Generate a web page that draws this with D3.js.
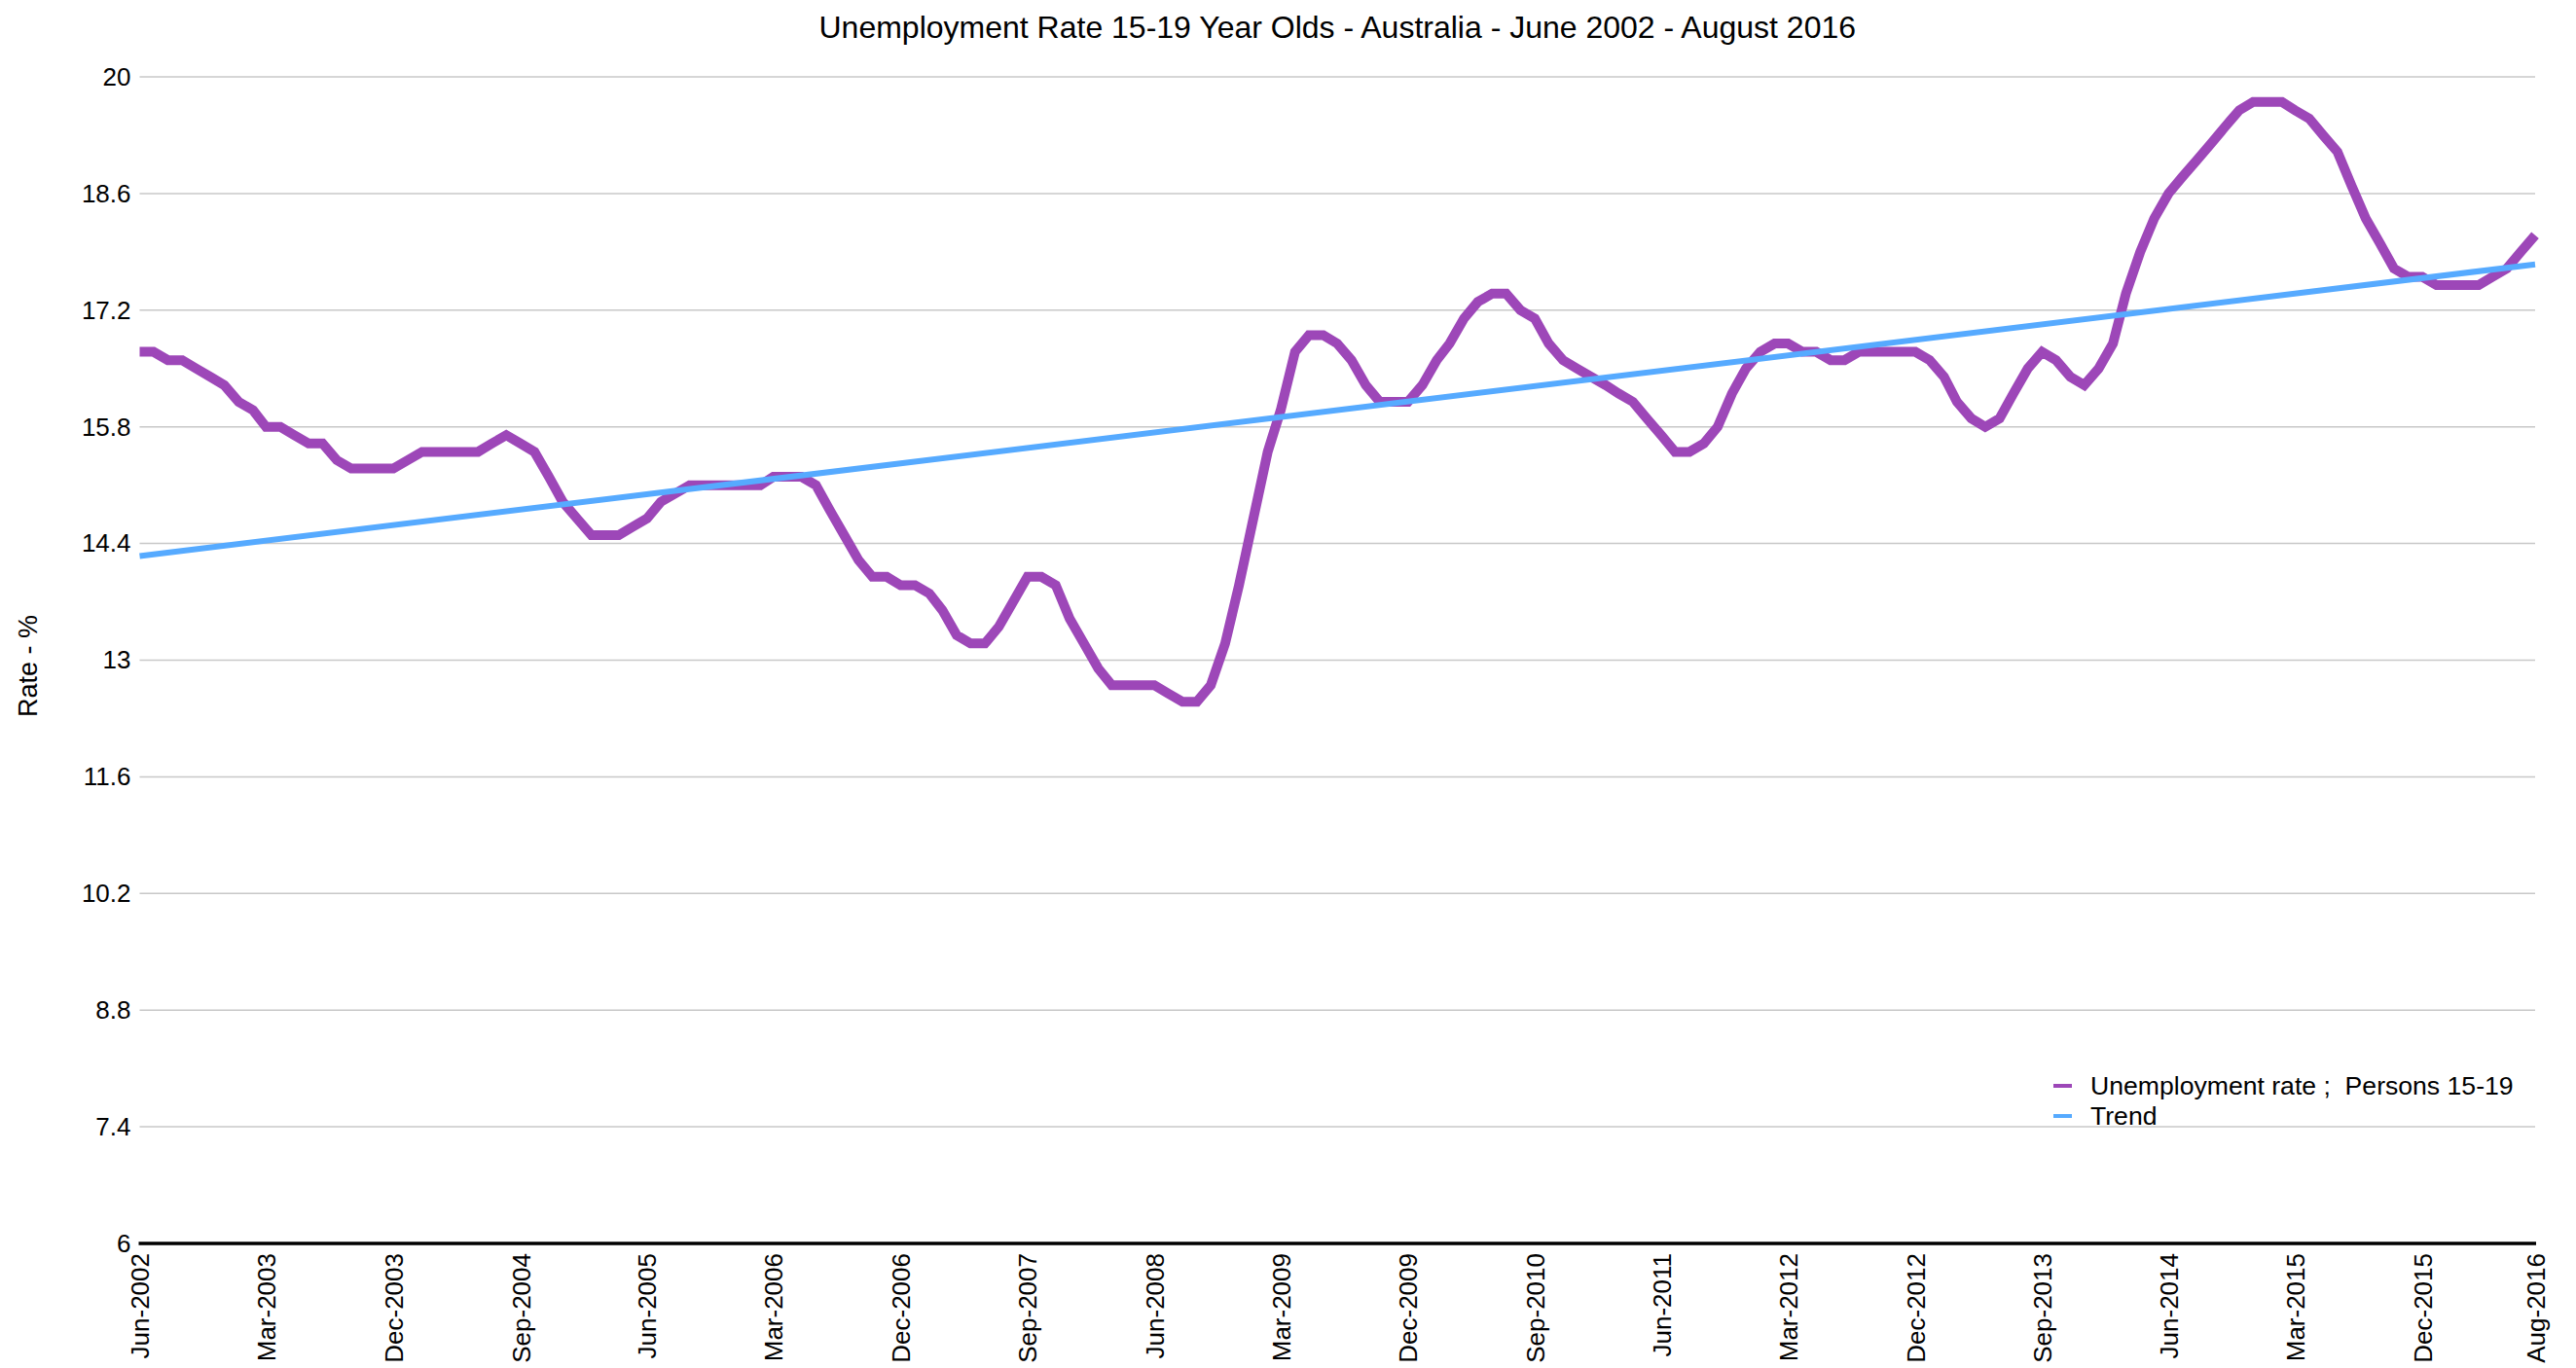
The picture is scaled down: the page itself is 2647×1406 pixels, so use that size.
<!DOCTYPE html>
<html>
<head>
<meta charset="utf-8">
<script src="https://cdn.jsdelivr.net/npm/d3@7"></script>
<style>
  body { margin: 0; background: #fff; }
  text { font-family: "Liberation Sans", Arial, Helvetica, sans-serif; fill: #000; }
</style>
</head>
<body>
<svg id="chart"></svg>
<script>
const width = 2647;
const height = 1406;

// Monthly series, Jun-2002 .. Aug-2016 (trend estimates, %)
const startMonth = "Jun-2002";
const rateValues = [
  16.7, 16.7, 16.6, 16.6, 16.5, 16.4, 16.3, 16.1, 16.0, 15.8,
  15.8, 15.7, 15.6, 15.6, 15.4, 15.3, 15.3, 15.3, 15.3, 15.4,
  15.5, 15.5, 15.5, 15.5, 15.5, 15.6, 15.7, 15.6, 15.5, 15.2,
  14.9, 14.7, 14.5, 14.5, 14.5, 14.6, 14.7, 14.9, 15.0, 15.1,
  15.1, 15.1, 15.1, 15.1, 15.1, 15.2, 15.2, 15.2, 15.1, 14.8,
  14.5, 14.2, 14.0, 14.0, 13.9, 13.9, 13.8, 13.6, 13.3, 13.2,
  13.2, 13.4, 13.7, 14.0, 14.0, 13.9, 13.5, 13.2, 12.9, 12.7,
  12.7, 12.7, 12.7, 12.6, 12.5, 12.5, 12.7, 13.2, 13.9, 14.7,
  15.5, 16.0, 16.7, 16.9, 16.9, 16.8, 16.6, 16.3, 16.1, 16.1,
  16.1, 16.3, 16.6, 16.8, 17.1, 17.3, 17.4, 17.4, 17.2, 17.1,
  16.8, 16.6, 16.5, 16.4, 16.3, 16.2, 16.1, 15.9, 15.7, 15.5,
  15.5, 15.6, 15.8, 16.2, 16.5, 16.7, 16.8, 16.8, 16.7, 16.7,
  16.6, 16.6, 16.7, 16.7, 16.7, 16.7, 16.7, 16.6, 16.4, 16.1,
  15.9, 15.8, 15.9, 16.2, 16.5, 16.7, 16.6, 16.4, 16.3, 16.5,
  16.8, 17.4, 17.9, 18.3, 18.6, 18.8, 19.0, 19.2, 19.4, 19.6,
  19.7, 19.7, 19.7, 19.6, 19.5, 19.3, 19.1, 18.7, 18.3, 18.0,
  17.7, 17.6, 17.6, 17.5, 17.5, 17.5, 17.5, 17.6, 17.7, 17.9,
  18.1
];

// Linear trend line end points (first and last month)
const trendValues = [14.25, 17.75];

const xTickLabels = [
  "Jun-2002", "Mar-2003", "Dec-2003", "Sep-2004", "Jun-2005", "Mar-2006", "Dec-2006",
  "Sep-2007", "Jun-2008", "Mar-2009", "Dec-2009", "Sep-2010", "Jun-2011", "Mar-2012",
  "Dec-2012", "Sep-2013", "Jun-2014", "Mar-2015", "Dec-2015", "Aug-2016"
];
const yTickValues = [6, 7.4, 8.8, 10.2, 11.6, 13, 14.4, 15.8, 17.2, 18.6, 20];

const seriesNames = ["Unemployment rate ;  Persons 15-19", "Trend"];
const seriesColors = ["#9d47b8", "#56aaff"];

const parseMonth = d3.utcParse("%b-%Y");
const firstDate = parseMonth(startMonth);
const dates = rateValues.map((v, i) => d3.utcMonth.offset(firstDate, i));
const series = rateValues.map((v, i) => ({ date: dates[i], value: v }));
const trend = [
  { date: dates[0], value: trendValues[0] },
  { date: dates[dates.length - 1], value: trendValues[1] }
];

const margin = { left: 143.5, right: 42, top: 79, bottom: 128 };

const svg = d3.select("#chart")
    .attr("width", width)
    .attr("height", height);

const x = d3.scaleUtc()
    .domain([dates[0], dates[dates.length - 1]])
    .range([margin.left, width - margin.right]);

const y = d3.scaleLinear()
    .domain([6, 20])
    .range([height - margin.bottom, margin.top]);

// Horizontal gridlines
svg.append("g")
    .selectAll("line")
    .data(yTickValues.filter(d => d !== 6))
    .enter().append("line")
    .attr("x1", x.range()[0])
    .attr("x2", x.range()[1])
    .attr("y1", d => y(d))
    .attr("y2", d => y(d))
    .attr("stroke", "#c8c8c8")
    .attr("stroke-width", 1.5);

// Y axis labels
const yAxis = d3.axisLeft(y)
    .tickValues(yTickValues)
    .tickSize(0)
    .tickPadding(9)
    .tickFormat(d => String(+d.toFixed(1)));

svg.append("g")
    .attr("transform", `translate(${margin.left},0)`)
    .call(yAxis)
    .call(g => g.select(".domain").remove())
    .call(g => g.selectAll("text")
        .attr("font-size", 26)
        .attr("font-family", null));

// X axis with rotated month labels
const xAxis = d3.axisBottom(x)
    .tickValues(xTickLabels.map(parseMonth))
    .tickSize(0)
    .tickFormat(d3.utcFormat("%b-%Y"));

svg.append("g")
    .attr("transform", `translate(0,${y(6)})`)
    .call(xAxis)
    .call(g => g.select(".domain")
        .attr("stroke", "#000")
        .attr("stroke-width", 3.5)
        .attr("d", `M${x.range()[0] - 1},0H${x.range()[1] + 1}`))
    .call(g => g.selectAll("text")
        .attr("font-size", 26)
        .attr("font-family", null)
        .attr("transform", "rotate(-90)")
        .attr("text-anchor", "end")
        .attr("x", -10)
        .attr("y", 0)
        .attr("dy", "0.35em"));

// Unemployment rate line
const line = d3.line()
    .x(d => x(d.date))
    .y(d => y(d.value));

svg.append("path")
    .datum(series)
    .attr("fill", "none")
    .attr("stroke", seriesColors[0])
    .attr("stroke-width", 10)
    .attr("stroke-linejoin", "miter")
    .attr("d", line);

// Trend line
svg.append("path")
    .datum(trend)
    .attr("fill", "none")
    .attr("stroke", seriesColors[1])
    .attr("stroke-width", 6)
    .attr("d", line);

// Title
svg.append("text")
    .attr("x", (x.range()[0] + x.range()[1]) / 2)
    .attr("y", 39)
    .attr("text-anchor", "middle")
    .attr("font-size", 32)
    .text("Unemployment Rate 15-19 Year Olds - Australia - June 2002 - August 2016");

// Y axis title
svg.append("text")
    .attr("transform", `translate(29,${(y(6) + y(20)) / 2 + 6}) rotate(-90)`)
    .attr("text-anchor", "middle")
    .attr("dy", "0.35em")
    .attr("font-size", 27)
    .text("Rate - %");

// Legend
const legend = svg.append("g")
    .attr("transform", "translate(2110,1116)");

const item = legend.selectAll("g")
    .data(seriesNames)
    .enter().append("g")
    .attr("transform", (d, i) => `translate(0,${i * 31})`);

item.append("line")
    .attr("x1", 0)
    .attr("x2", 19)
    .attr("stroke", (d, i) => seriesColors[i])
    .attr("stroke-width", 4);

item.append("text")
    .attr("x", 38)
    .attr("dy", "0.35em")
    .attr("font-size", 26.6)
    .style("white-space", "pre")
    .text(d => d);
</script>
</body>
</html>
